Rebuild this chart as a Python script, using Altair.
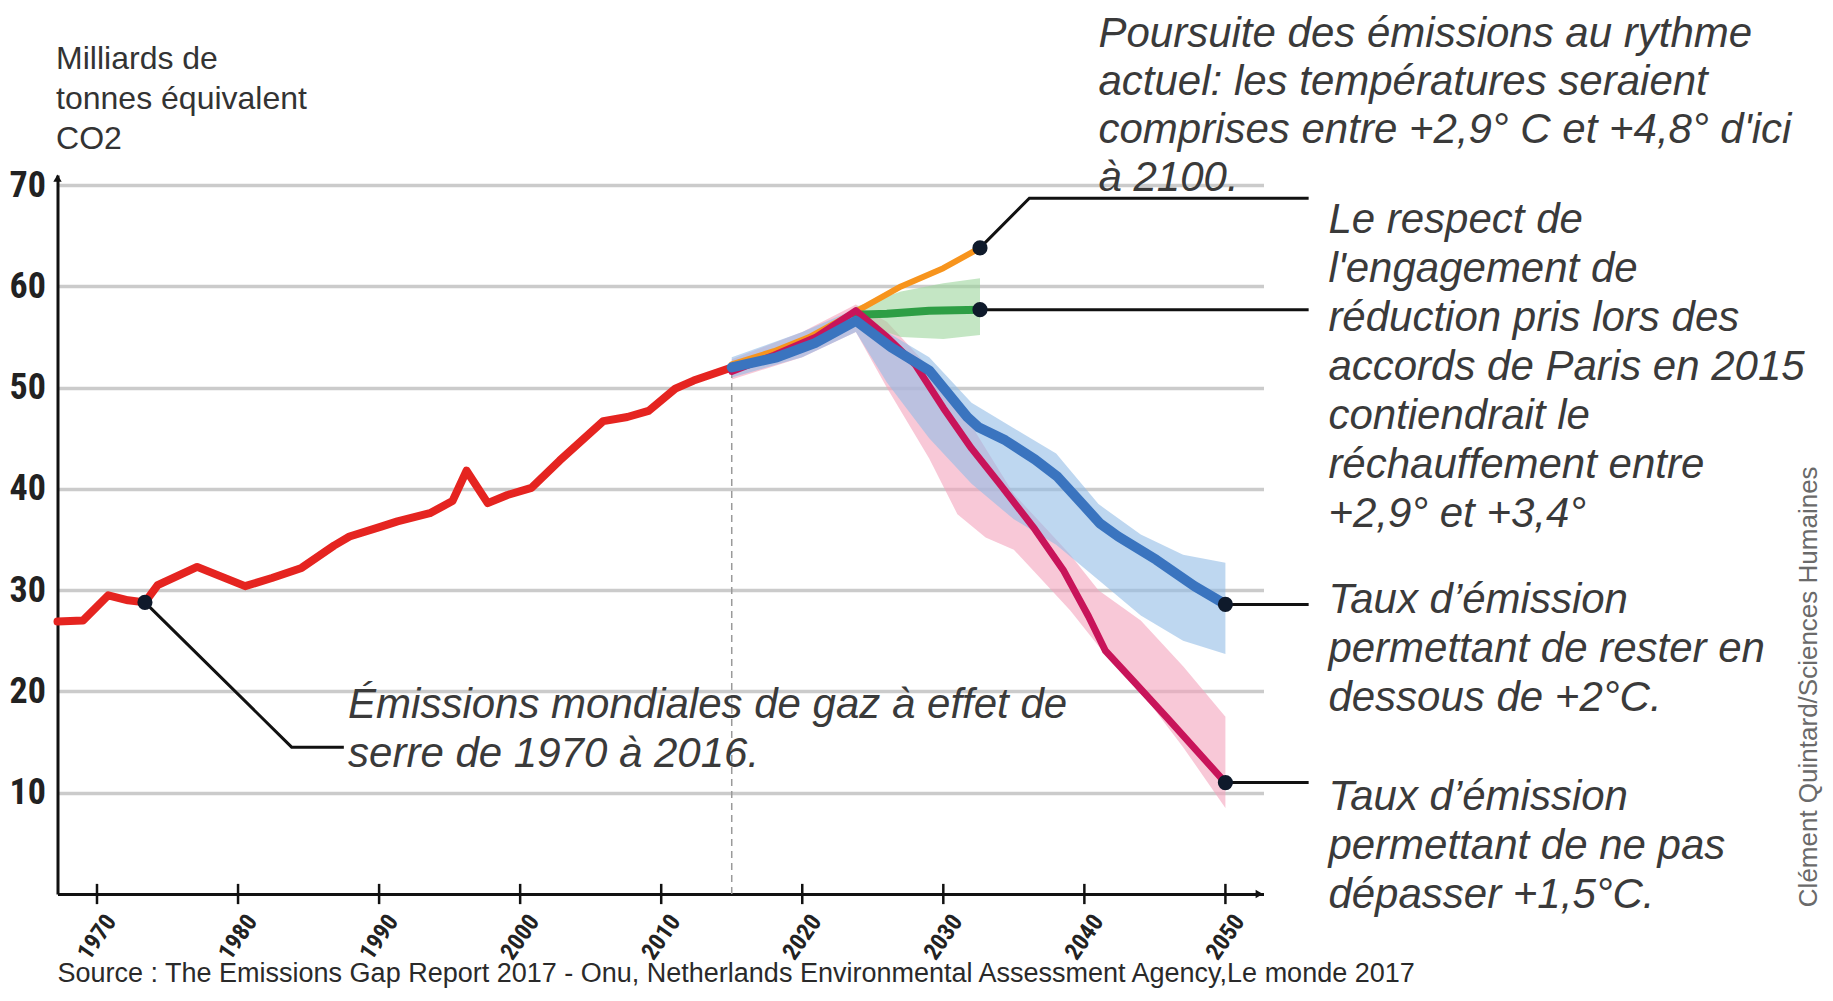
import altair as alt
import pandas as pd

# ---------------- data ----------------
hist_year = [1967.2, 1969.0, 1970.8, 1972.2, 1973.4, 1974.3, 1977.1, 1980.5, 1982.4, 1984.5,
             1986.8, 1987.9, 1990.2, 1991.3, 1993.6, 1995.2, 1996.2, 1997.7, 1999.1, 2000.8,
             2002.8, 2005.9, 2007.6, 2009.1, 2011.0, 2012.3, 2015.0]
hist_val = [26.9, 27.0, 29.5, 29.0, 28.8, 30.5, 32.3, 30.4, 31.2, 32.2,
            34.4, 35.3, 36.3, 36.8, 37.6, 38.8, 41.8, 38.6, 39.4, 40.1,
            42.8, 46.7, 47.1, 47.7, 49.9, 50.7, 52.0]

c2_year = [2015, 2018.2, 2020.9, 2023.8, 2026.3, 2029.0, 2031.7, 2032.5, 2034.4, 2036.5,
           2038.1, 2039.8, 2041.1, 2042.4, 2045.1, 2047.8, 2050]
c2_val = [52.0, 53.0, 54.4, 56.6, 54.0, 51.7, 47.1, 46.1, 44.8, 42.9,
          41.2, 38.6, 36.6, 35.3, 33.0, 30.4, 28.6]

c15_year = [2015, 2018, 2021, 2023.8, 2026, 2028, 2030, 2032, 2034, 2036.5,
            2038.5, 2040.3, 2041.5, 2043.5, 2046, 2050]
c15_val = [51.6, 53.2, 55.0, 57.6, 55.0, 52.3, 48.0, 44.0, 40.5, 36.0,
           32.0, 27.4, 24.0, 21.0, 17.2, 11.0]

trend_year = [2015, 2018, 2020.5, 2023.8, 2027, 2030, 2032.6]
trend_val = [52.3, 53.6, 55.0, 57.5, 60.0, 61.8, 63.8]

paris_year = [2023.8, 2026, 2029, 2032.6]
paris_val = [57.2, 57.3, 57.6, 57.7]

band2_year = [2015, 2020, 2023.8, 2026, 2029, 2032, 2035, 2038, 2041, 2044, 2047, 2050]
band2_lo = [51.0, 53.0, 55.5, 50.5, 45.0, 40.5, 37.0, 34.5, 31.0, 27.5, 25.0, 23.7]
band2_hi = [53.0, 55.5, 57.8, 55.5, 53.0, 48.5, 46.0, 43.5, 38.5, 35.5, 33.5, 32.7]

band15_year = [2015, 2020, 2023.8, 2026, 2029, 2031, 2033, 2035, 2037, 2039, 2041, 2044, 2047, 2050]
band15_lo = [50.8, 53.0, 55.5, 50.0, 43.0, 37.5, 35.2, 34.0, 31.0, 28.0, 24.5, 20.0, 14.5, 8.5]
band15_hi = [52.8, 55.5, 58.2, 56.5, 52.0, 48.5, 44.0, 39.5, 36.5, 33.5, 30.0, 27.0, 22.5, 17.5]

bandp_year = [2023.8, 2027, 2030, 2032.6]
bandp_lo = [56.5, 55.0, 54.8, 55.2]
bandp_hi = [58.0, 59.5, 60.3, 60.8]

dot_year = [1973.4, 2032.6, 2032.6, 2050, 2050]
dot_val = [28.8, 63.8, 57.7, 28.6, 11.0]

leader_id = [1, 1, 1, 2, 2, 2, 3, 3, 4, 4, 5, 5]
leader_year = [1973.4, 1983.8, 1987.5, 2032.6, 2036.1, 2055.9, 2032.6, 2055.9, 2050, 2055.9, 2050, 2055.9]
leader_val = [28.8, 14.5, 14.5, 63.8, 68.7, 68.7, 57.7, 57.7, 28.6, 28.6, 11.0, 11.0]

tick_years = [1970, 1980, 1990, 2000, 2010, 2020, 2030, 2040, 2050]
grid_vals = [10, 20, 30, 40, 50, 60, 70]

top_note = ["Poursuite des émissions au rythme\nactuel: les températures seraient\ncomprises entre +2,9° C et +4,8° d'ici\nà 2100."]
note_text = [
    "Le respect de\nl'engagement de\nréduction pris lors des\naccords de Paris en 2015\ncontiendrait le\nréchauffement entre\n+2,9° et +3,4°",
    "Taux d’émission\npermettant de rester en\ndessous de +2°C.",
    "Taux d’émission\npermettant de ne pas\ndépasser +1,5°C.",
    "Émissions mondiales de gaz à effet de\nserre de 1970 à 2016.",
]
note_year = [2057.3, 2057.3, 2057.3, 1987.8]
note_val = [66.6, 29.0, 9.6, 18.7]

ytitle_text = ["Milliards de\ntonnes équivalent\nCO2"]
source_text = ["Source : The Emissions Gap Report 2017 - Onu, Netherlands Environmental Assessment Agency,Le monde 2017"]
credit_text = ["Clément Quintard/Sciences Humaines"]

# ---------------- tables ----------------
hist = pd.DataFrame({"year": hist_year, "val": hist_val})
c2 = pd.DataFrame({"year": c2_year, "val": c2_val})
c15 = pd.DataFrame({"year": c15_year, "val": c15_val})
trend = pd.DataFrame({"year": trend_year, "val": trend_val})
paris = pd.DataFrame({"year": paris_year, "val": paris_val})
b2 = pd.DataFrame({"year": band2_year, "val": band2_lo, "val2": band2_hi})
b15 = pd.DataFrame({"year": band15_year, "val": band15_lo, "val2": band15_hi})
bp = pd.DataFrame({"year": bandp_year, "val": bandp_lo, "val2": bandp_hi})
dots = pd.DataFrame({"year": dot_year, "val": dot_val})
leaders = pd.DataFrame({"id": leader_id, "ord": list(range(len(leader_id))),
                        "year": leader_year, "val": leader_val})
ticks = pd.DataFrame({"year": tick_years, "val": [-1.0] * len(tick_years), "val2": [1.0] * len(tick_years)})
dash = pd.DataFrame({"year": [2015.0], "val": [0.0], "val2": [52.0]})
topn = pd.DataFrame({"year": [2041.0], "val": [84.95], "txt": top_note})
notes = pd.DataFrame({"year": note_year, "val": note_val, "txt": note_text})
ytitle = pd.DataFrame({"year": [1967.1], "val": [82.5], "txt": ytitle_text})
source = pd.DataFrame({"year": [1967.2], "val": [-7.9], "txt": source_text})
credit = pd.DataFrame({"year": [2091.4], "val": [-1.3], "txt": credit_text})
arrow_up = pd.DataFrame({"year": [1967.2], "val": [70.7]})
arrow_right = pd.DataFrame({"year": [2052.4], "val": [0.0]})

NARROW = "'Liberation Sans Narrow', 'Roboto Condensed', 'DejaVu Sans Condensed', sans-serif"
SANS = "'Liberation Sans', Arial, sans-serif"

xs = alt.Scale(domain=[1967.2, 2052.7], nice=False, zero=False)
ys = alt.Scale(domain=[0, 71], nice=False, zero=False)

xaxis = alt.Axis(values=tick_years, format="d", labelAngle=305, labelAlign="center",
                 labelBaseline="middle", labelPadding=43, labelFont=NARROW, labelFontSize=24,
                 labelFontWeight="bold", labelColor="#222222", ticks=False, tickSize=0,
                 domainColor="#111111", domainWidth=3, grid=False, labelFlush=False,
                 labelOverlap=False, title=None)
yaxis = alt.Axis(values=grid_vals, labelFont=NARROW, labelFontSize=36, labelFontWeight="bold",
                 labelColor="#222222", labelPadding=12, ticks=False, tickSize=0,
                 domainColor="#111111", domainWidth=3, grid=True, gridColor="#cbcbcb",
                 gridWidth=3.5, labelFlush=False, labelOverlap=False, title=None)

X = alt.X("year:Q", scale=xs, axis=xaxis)
Y = alt.Y("val:Q", scale=ys, axis=yaxis)
Y2 = alt.Y2("val2:Q")

area15 = alt.Chart(b15).mark_area(color="#f3a3bd", opacity=0.6).encode(x=X, y=Y, y2=Y2)
area2 = alt.Chart(b2).mark_area(color="#92bde6", opacity=0.6).encode(x=X, y=Y, y2=Y2)
areap = alt.Chart(bp).mark_area(color="#9dd69d", opacity=0.6).encode(x=X, y=Y, y2=Y2)

dash_l = alt.Chart(dash).mark_rule(color="#9a9a9a", strokeWidth=1.5, strokeDash=[7, 5]).encode(x=X, y=Y, y2=Y2)
tick_l = alt.Chart(ticks).mark_rule(color="#111111", strokeWidth=2.5).encode(x=X, y=Y, y2=Y2)

LS = dict(strokeCap="round", strokeJoin="round")
red_l = alt.Chart(hist).mark_line(color="#e52420", strokeWidth=8, **LS).encode(x=X, y=Y)
trend_l = alt.Chart(trend).mark_line(color="#f7941d", strokeWidth=6, **LS).encode(x=X, y=Y)
paris_l = alt.Chart(paris).mark_line(color="#2e9e45", strokeWidth=8, **LS).encode(x=X, y=Y)
c15_l = alt.Chart(c15).mark_line(color="#c8145a", strokeWidth=7, **LS).encode(x=X, y=Y)
c2_l = alt.Chart(c2).mark_line(color="#3a74bf", strokeWidth=10, **LS).encode(x=X, y=Y)

lead_l = alt.Chart(leaders).mark_line(color="#111111", strokeWidth=3).encode(
    x=X, y=Y, detail="id:N", order="ord:Q")
dots_l = alt.Chart(dots).mark_circle(color="#0f1a2b", opacity=1, size=230).encode(x=X, y=Y)

arr_u = alt.Chart(arrow_up).mark_point(shape="triangle-up", filled=True, color="#111111",
                                       opacity=1, size=70).encode(x=X, y=Y)
arr_r = alt.Chart(arrow_right).mark_point(shape="triangle-right", filled=True, color="#111111",
                                          opacity=1, size=70).encode(x=X, y=Y)

top_t = alt.Chart(topn).mark_text(align="left", baseline="middle", lineBreak="\n",
                                  font=SANS, fontStyle="italic", fontSize=42, lineHeight=48,
                                  color="#3a3a3a").encode(x=X, y=Y, text="txt:N")
notes_t = alt.Chart(notes).mark_text(align="left", baseline="middle", lineBreak="\n",
                                     font=SANS, fontStyle="italic", fontSize=42, lineHeight=49,
                                     color="#3a3a3a").encode(x=X, y=Y, text="txt:N")
ytitle_t = alt.Chart(ytitle).mark_text(align="left", baseline="middle", lineBreak="\n",
                                       font=SANS, fontSize=32, lineHeight=40,
                                       color="#333333").encode(x=X, y=Y, text="txt:N")
source_t = alt.Chart(source).mark_text(align="left", baseline="middle", font=SANS,
                                       fontSize=27, color="#2a2a2a").encode(x=X, y=Y, text="txt:N")
credit_t = alt.Chart(credit).mark_text(align="left", baseline="middle", angle=270, font=SANS,
                                       fontSize=26, color="#6a6a6a").encode(x=X, y=Y, text="txt:N")

chart = alt.layer(
    area15, area2, areap, dash_l, red_l, trend_l, paris_l, c15_l, c2_l,
    lead_l, dots_l, tick_l, arr_u, arr_r, top_t, notes_t, ytitle_t, source_t, credit_t
).properties(
    width=1206, height=719,
    autosize=alt.AutoSizeParams(type="none"),
    padding={"left": 49.5, "top": 167, "right": 561, "bottom": 94},
    background="white",
).configure_view(stroke=None)

chart.save("out.html", embed_options={"renderer": "svg", "actions": False})
